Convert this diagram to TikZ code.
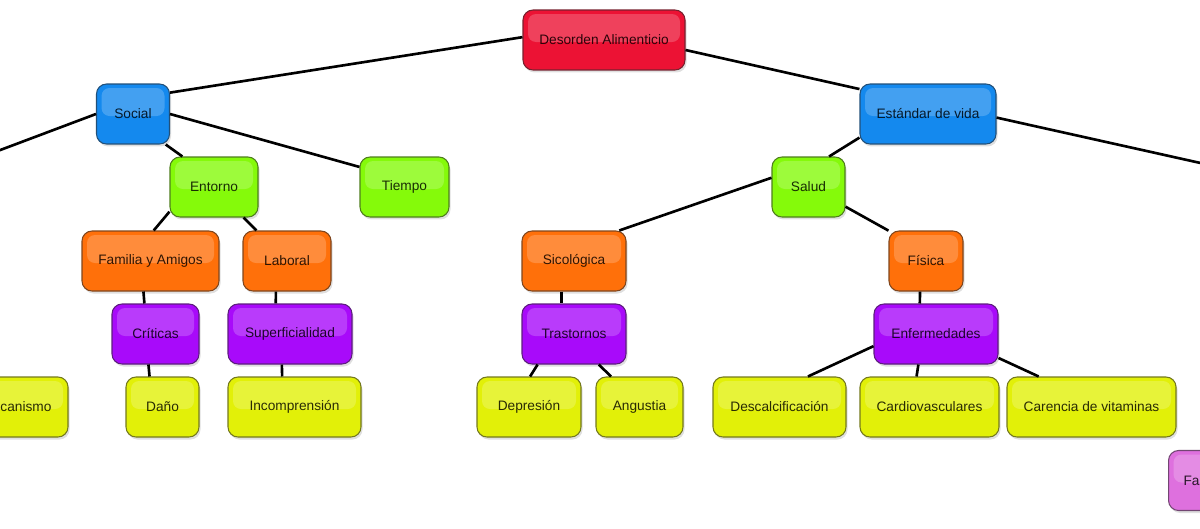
\documentclass[tikz,border=0pt]{standalone}
\usepackage{fontspec}
\setmainfont{Liberation Sans}
\usetikzlibrary{shadows}
\definecolor{cred}{RGB}{236,18,52}
\definecolor{cblue}{RGB}{20,137,238}
\definecolor{cgreen}{RGB}{133,250,10}
\definecolor{corange}{RGB}{255,112,10}
\definecolor{cpurple}{RGB}{168,10,250}
\definecolor{cyellow}{RGB}{226,240,8}
\definecolor{cpink}{RGB}{222,112,222}
\tikzset{
  box/.style={rectangle, rounded corners=0.2cm, minimum height=1.2cm, inner sep=1pt,
    font=\fontsize{7.8}{9}\selectfont, fill=#1, draw=#1!50!black!80!gray, text=#1!18!black,
    line width=0.6pt,
    drop shadow={opacity=0.25, shadow xshift=0.03cm, shadow yshift=-0.05cm},
    path picture={\fill[white, opacity=0.2, rounded corners=0.16cm]
      ([xshift=0.1cm,yshift=-0.08cm]path picture bounding box.north west) rectangle
      ([xshift=-0.1cm,yshift=-0.04cm]path picture bounding box.east);}},
  w/.style={minimum width=#1*0.02cm},
  con/.style={line width=1.5pt, black}
}
\begin{document}
\begin{tikzpicture}[x=0.02cm, y=-0.02cm]
\useasboundingbox (0,0) rectangle (1200,528);
\clip (0,0) rectangle (1200,528);
% level 0
\node[box=cred, w=162] (des) at (604,40) {Desorden Alimenticio};
% level 1
\node[box=cblue, w=73] (soc) at (133,114) {Social};
\node[box=cblue, w=136] (est) at (928,114) {Estándar de vida};
% level 2
\node[box=cgreen, w=88] (ent) at (214,187) {Entorno};
\node[box=cgreen, w=89] (tie) at (404.5,187) {Tiempo};
\node[box=cgreen, w=73] (sal) at (808.5,187) {Salud};
% level 3
\node[box=corange, w=137] (fam) at (150.5,261) {Familia y Amigos};
\node[box=corange, w=88] (lab) at (287,261) {Laboral};
\node[box=corange, w=104] (sic) at (574,261) {Sicológica};
\node[box=corange, w=74] (fis) at (926,261) {Física};
% level 4
\node[box=cpurple, w=87] (cri) at (155.5,334) {Críticas};
\node[box=cpurple, w=124] (sup) at (290,334) {Superficialidad};
\node[box=cpurple, w=104] (tra) at (574,334) {Trastornos};
\node[box=cpurple, w=124] (enf) at (936,334) {Enfermedades};
% level 5
\node[box=cyellow, w=103] (mec) at (16.5,407) {\hspace*{0.38cm}canismo};
\node[box=cyellow, w=73] (dan) at (162.5,407) {Daño};
\node[box=cyellow, w=133] (inc) at (294.5,407) {Incomprensión};
\node[box=cyellow, w=104] (dep) at (529,407) {Depresión};
\node[box=cyellow, w=87] (ang) at (639.5,407) {Angustia};
\node[box=cyellow, w=133] (dsc) at (779.5,407) {Descalcificación};
\node[box=cyellow, w=139] (car) at (929.5,407) {Cardiovasculares};
\node[box=cyellow, w=169] (vit) at (1091.5,407) {Carencia de vitaminas};
% partial pink box
\node[box=cpink, anchor=west, text width=1.6cm, inner xsep=0.3cm, align=left] (fa) at (1168,480.5) {Fa};
% free ends
\coordinate (lend) at (-5,152);
\coordinate (rend) at (1205,164);
% connectors
\draw[con] (des.178) -- (soc.30);
\draw[con] (des.-7) -- (est.160);
\draw[con] (soc.west) -- (lend);
\draw[con] (est.-3) -- (rend);
\draw[con] (soc.-43) -- (ent.136);
\draw[con] (soc.east) -- (tie.156);
\draw[con] (est.199) -- (sal.56);
\draw[con] (sal.166) -- (sic.34);
\draw[con] (sal.-28) -- (fis.141);
\draw[con] (ent.209) -- (fam.84);
\draw[con] (ent.-46) -- (lab.135);
\draw[con] (fam.-103) -- (cri.110);
\draw[con] (cri.-103) -- (dan.113);
\draw[con] (lab.-110) -- (sup.115);
\draw[con] (sup.-105) -- (inc.112);
\draw[con] (sic.-112) -- (tra.112);
\draw[con] (tra.220) -- (dep.88);
\draw[con] (tra.-51) -- (ang.133);
\draw[con] (fis.-101) -- (enf.118);
\draw[con] (enf.191) -- (dsc.47);
\draw[con] (enf.-120) -- (car.113);
\draw[con] (enf.-21) -- (vit.150);
\end{tikzpicture}
\end{document}
